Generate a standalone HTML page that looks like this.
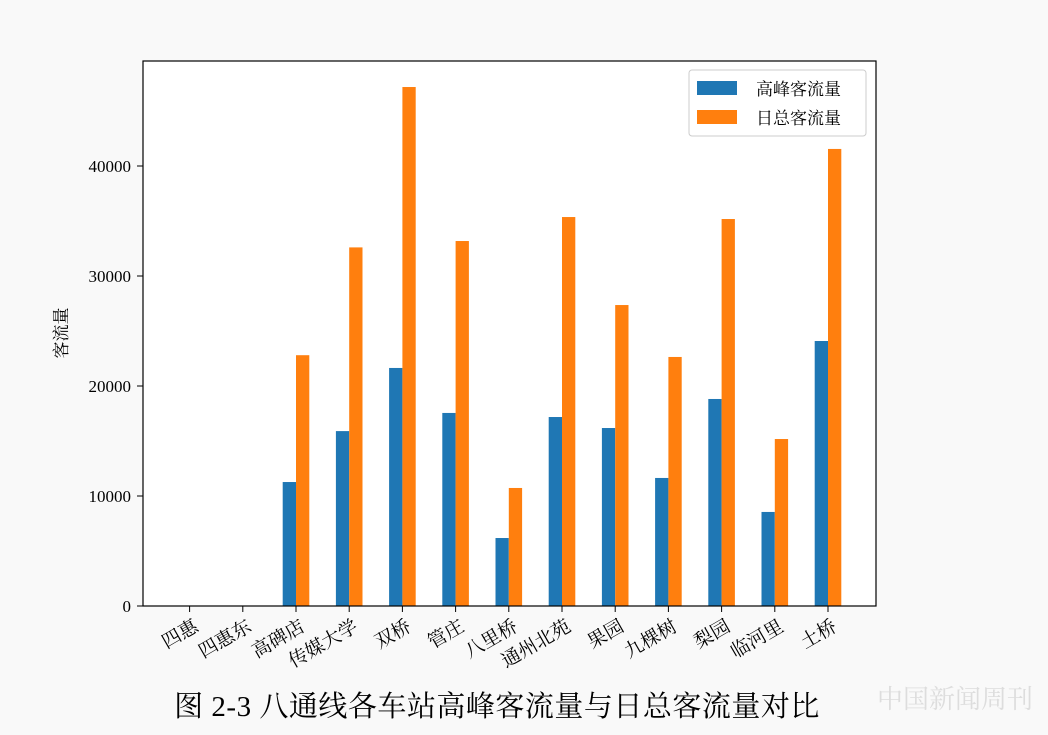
<!DOCTYPE html>
<html><head><meta charset="utf-8"><style>
body{margin:0;background:#f9f9f9;}
svg text{font-family:"Liberation Serif","Noto Serif CJK SC",serif;}
</style></head><body>
<svg width="1048" height="730" xmlns="http://www.w3.org/2000/svg">
<rect x="0" y="0" width="1048" height="730" fill="#f9f9f9"/>
<rect x="143" y="61" width="733" height="545" fill="#ffffff"/>
<g id="bars"></g>
<g id="axes"></g>
<rect x="143" y="61" width="733" height="545" fill="none" stroke="#000" stroke-width="1.2"/>
<g>
<rect x="689" y="70" width="177" height="66" rx="3" fill="#fff" stroke="#ccc"/>
<rect x="697" y="81" width="40" height="14" fill="#1f77b4"/>
<text x="756" y="95" font-size="17">高峰客流量</text>
<rect x="697" y="110" width="40" height="14" fill="#ff7f0e"/>
<text x="756" y="124" font-size="17">日总客流量</text>
</g>
<text transform="translate(67,333) rotate(-90)" text-anchor="middle" font-size="17">客流量</text>
<text x="497" y="716" text-anchor="middle" font-size="29" letter-spacing="0.5">图 2-3  八通线各车站高峰客流量与日总客流量对比</text>
<text x="955" y="708" text-anchor="middle" font-size="26" fill="#ddd">中国新闻周刊</text>
</svg>
<script>
const categories=["四惠","四惠东","高碑店","传媒大学","双桥","管庄","八里桥","通州北苑","果园","九棵树","梨园","临河里","土桥"];
const peakValues=[0,0,11270,15900,21640,17550,6180,17180,16180,11640,18820,8550,24090];
const dailyValues=[0,0,22800,32600,47180,33180,10730,35360,27360,22640,35180,15180,41550];
const yTicks=[0,10000,20000,30000,40000];
const NS="http://www.w3.org/2000/svg";
const x0=189.6, step=53.2, bw=13.3;
function xPos(i){return x0+i*step;}
function yPos(v){return 606-v*110/10000;}
const bars=document.getElementById('bars'), axes=document.getElementById('axes');
function mk(tag,attrs,parent){const e=document.createElementNS(NS,tag);for(const k in attrs)e.setAttribute(k,attrs[k]);parent.appendChild(e);return e;}
categories.forEach((c,i)=>{
  const cx=xPos(i);
  const b=mk('rect',{x:cx-bw,y:yPos(peakValues[i]),width:bw,height:606-yPos(peakValues[i]),fill:'#1f77b4'},bars);
  
  
  const o=mk('rect',{x:cx,y:yPos(dailyValues[i]),width:bw,height:606-yPos(dailyValues[i]),fill:'#ff7f0e'},bars);
  
  
  const t=mk('line',{x1:cx,x2:cx,y1:606,y2:612,stroke:'#000'},axes);
  
  
  const l=mk('text',{transform:`translate(${cx+10},${630}) rotate(-30)`,'text-anchor':'end','font-size':'19'},axes);
  l.textContent=c;
  
  
});
yTicks.forEach(v=>{
  const y=yPos(v);
  const t=mk('line',{x1:137,x2:143,y1:y,y2:y,stroke:'#000'},axes);
  
  
  const l=mk('text',{x:131,y:y+6,'text-anchor':'end','font-size':'17'},axes);
  l.textContent=v;
  
  
});
</script>
</body></html>
